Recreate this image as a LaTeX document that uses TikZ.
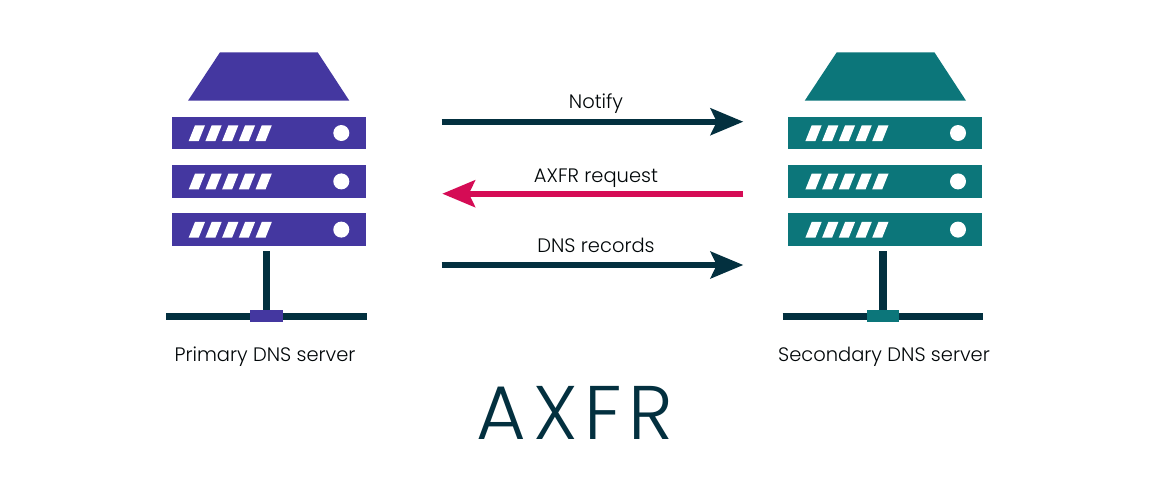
\documentclass[tikz,border=0pt]{standalone}
\usepackage{fontspec}
\setmainfont{Poppins}[UprightFont=* Light]
\newfontfamily\titlefont{Poppins}[UprightFont=* Light,LetterSpace=9]
\usetikzlibrary{arrows.meta}
\definecolor{navy}{HTML}{03303F}
\definecolor{pinkred}{HTML}{D50C55}
\definecolor{purplesrv}{HTML}{4437A0}
\definecolor{tealsrv}{HTML}{0C767A}
\tikzset{
  x=0.75pt,y=-0.75pt,
  flow/.style={line width=4.4pt,line cap=butt,-{Stealth[length=24.5pt,width=20pt,inset=4.6pt]}},
  flowdark/.style={flow,draw=navy},
  flowred/.style={flow,draw=pinkred},
  barnode/.style={draw=none,minimum width=145.5pt,minimum height=24.4pt,inner sep=0pt,outer sep=0pt},
  tapnode/.style={draw=none,minimum width=24.5pt,minimum height=9.2pt,inner sep=0pt,outer sep=0pt},
  netline/.style={line width=5.7pt,draw=navy},
  lab/.style={font=\fontsize{14.6pt}{17pt}\selectfont,text=black!88!navy,inner sep=0pt},
}
\newcommand{\bardeco}[2]{% x offset, y top of the bar
  \foreach \k in {0,...,4}{
    \fill[white] ({#1+188.7+16.7*\k},{#2+24}) -- ({#1+195+16.7*\k},{#2+8.3}) -- ({#1+205+16.7*\k},{#2+8.3}) -- ({#1+198.7+16.7*\k},{#2+24}) -- cycle;
  }
  \fill[white] ({#1+341.3},{#2+16}) circle[radius=8];
}
\newcommand{\srv}[3]{% prefix, x offset, colour
  \fill[#3] ({#2+220},52.3) -- ({#2+317.7},52.3) -- ({#2+349.3},100.7) -- ({#2+188},100.7) -- cycle;
  \node[barnode,fill=#3] (#1b1) at ({#2+268.7},133) {};
  \node[barnode,fill=#3] (#1b2) at ({#2+268.7},181.4) {};
  \node[barnode,fill=#3] (#1b3) at ({#2+268.7},229.6) {};
  \bardeco{#2}{117}
  \bardeco{#2}{165.4}
  \bardeco{#2}{213.6}
  \coordinate (#1l) at ({#2+166},316.5);
  \coordinate (#1r) at ({#2+366.7},316.5);
  \draw[netline] (#1l) -- (#1r);
  \node[tapnode,fill=#3] (#1t) at ({#2+266.4},316.2) {};
  \draw[netline,shorten <=3.9pt] (#1t.north |- #1b3.south) -- (#1t.north);
}
\begin{document}
\begin{tikzpicture}
\useasboundingbox (0,0) rectangle (1151,480);
\fill[white] (0,0) rectangle (1151,480);
\srv{p}{0}{purplesrv}
\srv{s}{616.7}{tealsrv}
\node[lab] (plabel) at (265,356.5) {Primary DNS server};
\node[lab] (slabel) at (884,356.5) {Secondary DNS server};
\coordinate (a1) at (441.7,121.7);
\coordinate (b1) at (743.3,121.7);
\coordinate (a2) at (743.3,193.7);
\coordinate (b2) at (442.3,193.7);
\coordinate (a3) at (441.7,265);
\coordinate (b3) at (743.3,265);
\draw[flowdark] (a1) -- (b1);
\draw[flowred] (a2) -- (b2);
\draw[flowdark] (a3) -- (b3);
\node[lab] (n1) at (596,103.5) {Notify};
\node[lab] (n2) at (596,178) {AXFR request};
\node[lab] (n3) at (596,245.5) {DNS records};
\node[inner sep=0pt,text=navy,font=\titlefont\fontsize{57pt}{60pt}\selectfont] (title) at (575,412.5) {AXFR};
\end{tikzpicture}
\end{document}
